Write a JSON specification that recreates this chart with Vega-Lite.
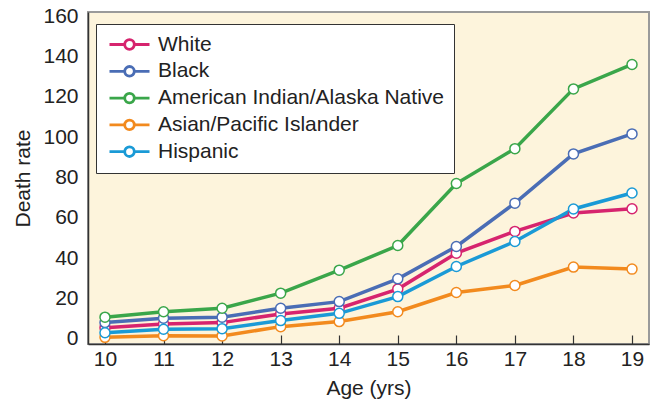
{
  "$schema": "https://vega.github.io/schema/vega-lite/v6.json",
  "width": 561,
  "height": 332,
  "autosize": {"type": "none"},
  "padding": {"left": 88, "top": 12, "right": 5, "bottom": 59},
  "background": "white",
  "config": {
    "font": "Liberation Sans",
    "view": {"fill": "#FDF4DC", "stroke": "#9a9a9a", "strokeWidth": 2}
  },
  "data": {"values": [
    {"age": 10, "group": "White", "rate": 5.6},
    {"age": 11, "group": "White", "rate": 7.4},
    {"age": 12, "group": "White", "rate": 8.1},
    {"age": 13, "group": "White", "rate": 12.4},
    {"age": 14, "group": "White", "rate": 15.2},
    {"age": 15, "group": "White", "rate": 24.7},
    {"age": 16, "group": "White", "rate": 42.5},
    {"age": 17, "group": "White", "rate": 53.3},
    {"age": 18, "group": "White", "rate": 62.4},
    {"age": 19, "group": "White", "rate": 64.5},
    {"age": 10, "group": "Black", "rate": 8.1},
    {"age": 11, "group": "Black", "rate": 10.3},
    {"age": 12, "group": "Black", "rate": 10.8},
    {"age": 13, "group": "Black", "rate": 15.2},
    {"age": 14, "group": "Black", "rate": 18.5},
    {"age": 15, "group": "Black", "rate": 29.8},
    {"age": 16, "group": "Black", "rate": 45.8},
    {"age": 17, "group": "Black", "rate": 67.3},
    {"age": 18, "group": "Black", "rate": 91.7},
    {"age": 19, "group": "Black", "rate": 101.6},
    {"age": 10, "group": "American Indian/Alaska Native", "rate": 10.8},
    {"age": 11, "group": "American Indian/Alaska Native", "rate": 13.5},
    {"age": 12, "group": "American Indian/Alaska Native", "rate": 15.2},
    {"age": 13, "group": "American Indian/Alaska Native", "rate": 22.7},
    {"age": 14, "group": "American Indian/Alaska Native", "rate": 34.1},
    {"age": 15, "group": "American Indian/Alaska Native", "rate": 46.3},
    {"age": 16, "group": "American Indian/Alaska Native", "rate": 77.0},
    {"age": 17, "group": "American Indian/Alaska Native", "rate": 94.3},
    {"age": 18, "group": "American Indian/Alaska Native", "rate": 123.9},
    {"age": 19, "group": "American Indian/Alaska Native", "rate": 136.0},
    {"age": 10, "group": "Asian/Pacific Islander", "rate": 0.8},
    {"age": 11, "group": "Asian/Pacific Islander", "rate": 1.6},
    {"age": 12, "group": "Asian/Pacific Islander", "rate": 1.5},
    {"age": 13, "group": "Asian/Pacific Islander", "rate": 6.1},
    {"age": 14, "group": "Asian/Pacific Islander", "rate": 8.6},
    {"age": 15, "group": "Asian/Pacific Islander", "rate": 13.5},
    {"age": 16, "group": "Asian/Pacific Islander", "rate": 23.0},
    {"age": 17, "group": "Asian/Pacific Islander", "rate": 26.5},
    {"age": 18, "group": "Asian/Pacific Islander", "rate": 35.6},
    {"age": 19, "group": "Asian/Pacific Islander", "rate": 34.6},
    {"age": 10, "group": "Hispanic", "rate": 3.1},
    {"age": 11, "group": "Hispanic", "rate": 4.8},
    {"age": 12, "group": "Hispanic", "rate": 5.1},
    {"age": 13, "group": "Hispanic", "rate": 9.1},
    {"age": 14, "group": "Hispanic", "rate": 12.7},
    {"age": 15, "group": "Hispanic", "rate": 21.0},
    {"age": 16, "group": "Hispanic", "rate": 35.9},
    {"age": 17, "group": "Hispanic", "rate": 48.3},
    {"age": 18, "group": "Hispanic", "rate": 64.4},
    {"age": 19, "group": "Hispanic", "rate": 72.3}
  ]},
  "encoding": {
    "x": {"field": "age", "type": "quantitative",
      "scale": {"domain": [9.71, 19.29], "nice": false, "zero": false},
      "axis": {"values": [10,11,12,13,14,15,16,17,18,19], "title": "Age (yrs)", "grid": false,
        "domainColor": "#333333", "domainWidth": 1.5, "tickColor": "#333333",
        "tickSize": -9, "tickWidth": 1.2, "labelPadding": 13, "titlePadding": 8,
        "labelFont": "Liberation Sans", "labelFontSize": 21, "labelColor": "#222222",
        "titleFont": "Liberation Sans", "titleFontSize": 21, "titleColor": "#222222", "titleFontWeight": "normal"}},
    "y": {"field": "rate", "type": "quantitative",
      "scale": {"domain": [-2.5, 162], "nice": false, "zero": false},
      "axis": {"values": [0,20,40,60,80,100,120,140,160], "title": "Death rate", "grid": false,
        "domainColor": "#333333", "domainWidth": 1.5,
        "ticks": false, "labelPadding": 10, "titlePadding": 9,
        "labelFont": "Liberation Sans", "labelFontSize": 21, "labelColor": "#222222",
        "titleFont": "Liberation Sans", "titleFontSize": 21, "titleColor": "#222222", "titleFontWeight": "normal"}},
    "stroke": {"field": "group", "type": "nominal",
      "scale": {"domain": ["White", "Black", "American Indian/Alaska Native", "Asian/Pacific Islander", "Hispanic"],
                "range": ["#D6246E", "#4A6DB5", "#3AA64A", "#F28A1E", "#1A9AD6"]},
      "legend": {"title": null, "orient": "none", "legendX": 8, "legendY": 12,
        "fillColor": "white", "strokeColor": "#333333", "padding": 10,
        "symbolType": "M-0.875,0H1.025M2.225,0H4.125M2.225,0A0.6,0.6 0 1 1 1.025,0A0.6,0.6 0 1 1 2.225,0Z",
        "symbolSize": 256, "symbolStrokeWidth": 2.8, "symbolFillColor": "white",
        "labelFont": "Liberation Sans", "labelFontSize": 21, "labelColor": "#222222", "labelLimit": 400,
        "labelOffset": 31, "rowPadding": 4.8}}
  },
  "layer": [
    {"mark": {"type": "line", "strokeWidth": 3.5}},
    {"mark": {"type": "point", "filled": true, "fill": "white", "size": 100, "strokeWidth": 1.5, "opacity": 1}}
  ]
}
